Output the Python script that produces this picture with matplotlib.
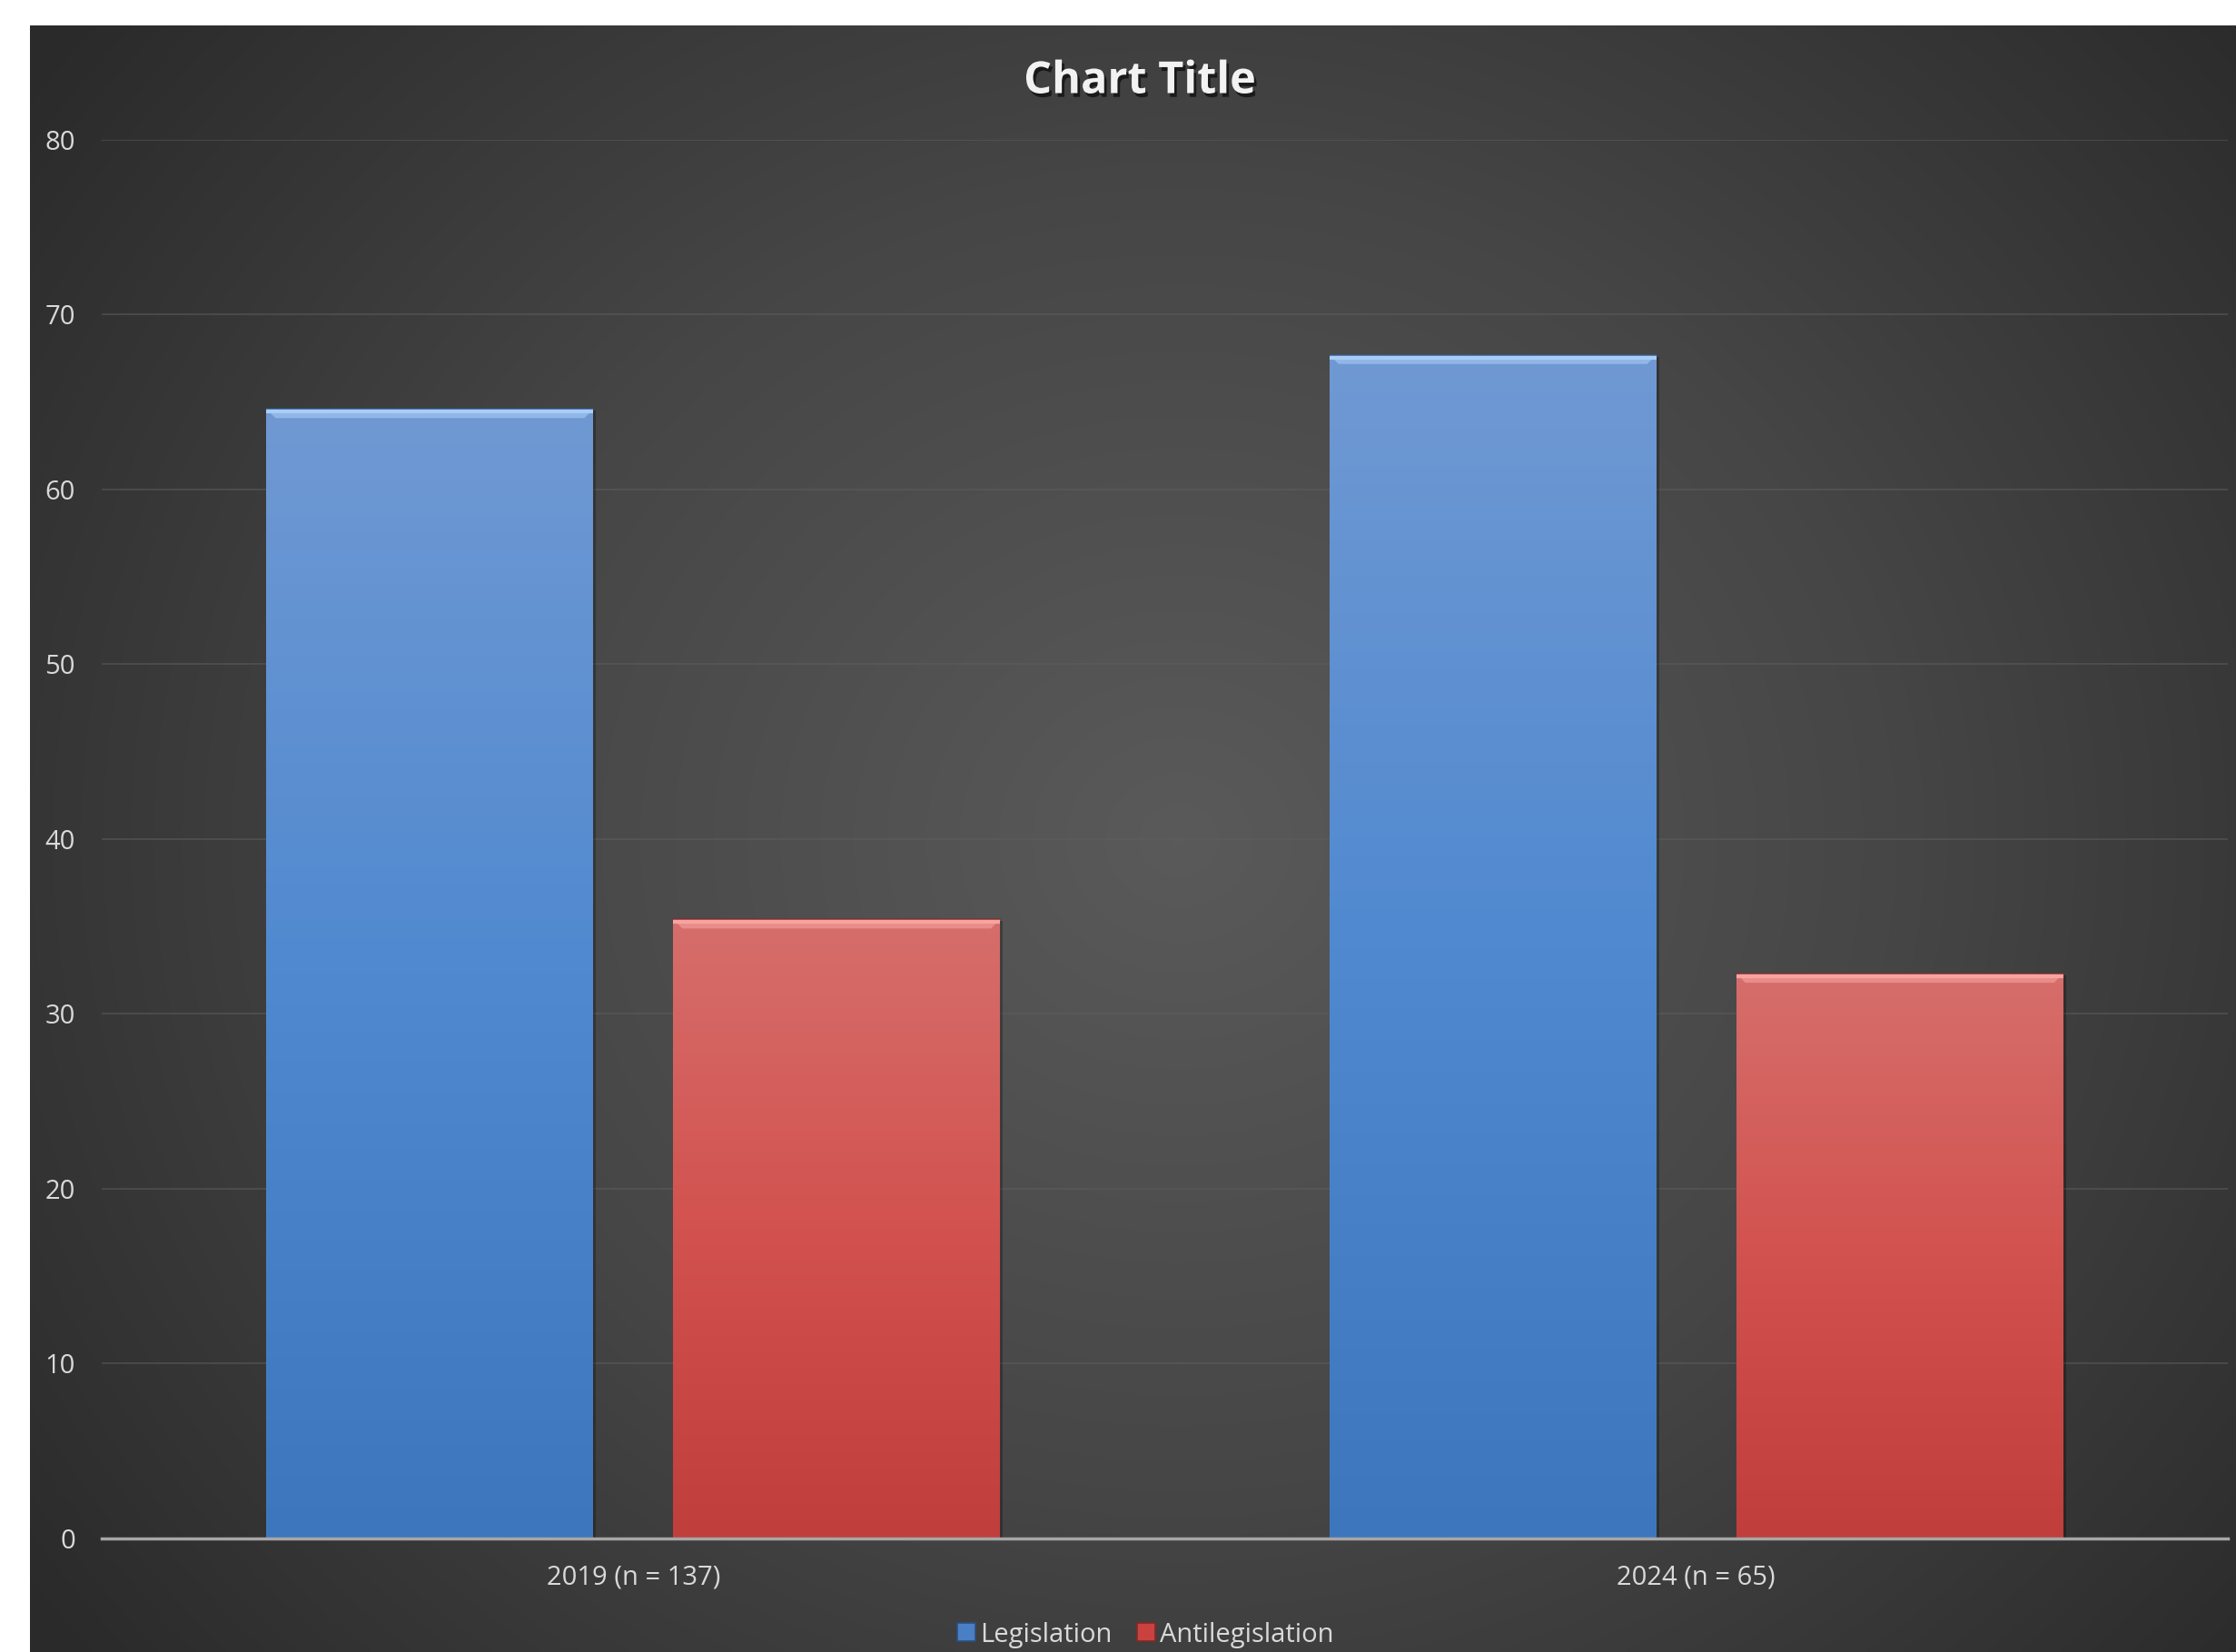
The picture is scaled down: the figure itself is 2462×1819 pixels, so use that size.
import numpy as np
import matplotlib
matplotlib.use("Agg")
import matplotlib.pyplot as plt
import matplotlib.patheffects as pe
from matplotlib.colors import LinearSegmentedColormap
from matplotlib.patches import Polygon, Rectangle
from matplotlib.lines import Line2D

categories = ["2019 (n = 137)", "2024 (n = 65)"]
legislation = [64.6, 67.7]
antilegislation = [35.4, 32.3]
series_names = ["Legislation", "Antilegislation"]
yticks = [0, 10, 20, 30, 40, 50, 60, 70, 80]

W, H, DPI = 2462, 1819, 100
fig = plt.figure(figsize=(W / DPI, H / DPI), dpi=DPI, facecolor="white")
plt.rcParams["font.family"] = ["Open Sans", "DejaVu Sans"]

# dark chart area with radial glow
bg = fig.add_axes([33 / W, 0, 1 - 33 / W, (H - 28) / H])
bg.set_axis_off()
ny, nx = 400, 540
yy, xx = np.mgrid[0:ny, 0:nx]
cx, cy = nx * 0.52, ny * 0.50
r = np.sqrt(((xx - cx) / (nx * 0.65)) ** 2 + ((yy - cy) / (ny * 0.8)) ** 2)
r = np.clip(r, 0, 1)
glow = LinearSegmentedColormap.from_list("glow", ["#5a5a5a", "#464646", "#2a2a2a"])
bg.imshow(r, cmap=glow, aspect="auto", extent=[0, 1, 0, 1], interpolation="bilinear")
bg.set_xlim(0, 1)
bg.set_ylim(0, 1)

ax = fig.add_axes([112 / W, 125.3 / H, (2453 - 112) / W, (1693.7 - 154) / H])
ax.patch.set_alpha(0)

x = np.arange(len(categories))
bw = 0.3074
off = bw / 2 + 0.0376

blue_grad = LinearSegmentedColormap.from_list("b", ["#3e76bd", "#5089d0", "#7099d3"])
red_grad = LinearSegmentedColormap.from_list("r", ["#c03e3c", "#d2524f", "#d66e6b"])
bevel_col = {"b": "#a9cdf6", "r": "#f7a4a1"}

px_x = 1 / (2453 - 112) * 2.0   # data units per pixel in x
px_y = 80 / (1693.7 - 154)      # data units per pixel in y

def draw_series(pos, vals, cmap, key, label):
    bars = ax.bar(pos, vals, bw, color="none", edgecolor="none", label=label, zorder=3)
    grad = np.linspace(0, 1, 256).reshape(-1, 1)
    for b in bars:
        x0, y0 = b.get_x(), b.get_y()
        w, h = b.get_width(), b.get_height()
        # soft shadow to the right
        ax.add_patch(Rectangle((x0 + 3 * px_x, y0), w, h - 2 * px_y, color="#000000",
                               alpha=0.25, lw=0, zorder=2))
        im = ax.imshow(grad, cmap=cmap, aspect="auto", origin="lower",
                       extent=[x0, x0 + w, y0, y0 + h], zorder=3)
        im.set_clip_path(b)
        d = 10
        top = Polygon([[x0, y0 + h], [x0 + w, y0 + h],
                       [x0 + w - d * px_x, y0 + h - d * px_y],
                       [x0 + d * px_x, y0 + h - d * px_y]],
                      closed=True, color=bevel_col[key], alpha=0.6, lw=0, zorder=4)
        ax.add_patch(top)
        ax.plot([x0, x0 + w], [y0 + h - 3 * px_y] * 2, color=bevel_col[key], lw=3,
                zorder=5, solid_capstyle="butt")
        ax.plot([x0, x0 + w], [y0 + h] * 2, color="#2c4f80" if key == "b" else "#7e2b29",
                lw=1.2, alpha=0.7, zorder=5)
    return bars

draw_series(x - off, legislation, blue_grad, "b", series_names[0])
draw_series(x + off, antilegislation, red_grad, "r", series_names[1])

ax.set_xlim(-0.5, 1.5)
ax.set_ylim(0, 80)
ax.set_yticks(yticks)
ax.set_xticks(x)
ax.set_xticklabels(categories)
ax.yaxis.grid(True, color="#5e5e5e", lw=1.2, alpha=0.6, zorder=0)
ax.set_axisbelow(True)
for s in ["top", "right", "left"]:
    ax.spines[s].set_visible(False)
ax.spines["bottom"].set_color("#a6a6a6")
ax.spines["bottom"].set_linewidth(2.5)
ax.spines["bottom"].set_zorder(6)
ax.tick_params(axis="both", length=0, colors="#d9d9d9", labelsize=21)
ax.tick_params(axis="y", pad=21)
ax.tick_params(axis="x", pad=21)

fig.text(1255 / W, 1 - 90 / H, "Chart Title", ha="center", va="center",
         fontsize=35, fontweight="bold", color="#f2f2f2",
         path_effects=[pe.withSimplePatchShadow(offset=(2, -3), shadow_rgbFace="black", alpha=0.6)])

# legend
handles = [Line2D([], [], marker="s", ls="none", markersize=15, markerfacecolor="#4a7fc4",
                  markeredgecolor="#2c4f80", markeredgewidth=1.2),
           Line2D([], [], marker="s", ls="none", markersize=15, markerfacecolor="#c9423f",
                  markeredgecolor="#7e2b29", markeredgewidth=1.2)]
fig.legend(handles, series_names, loc="center", bbox_to_anchor=(1262 / W, 1 - 1800 / H),
           ncol=2, frameon=False, fontsize=21, handlelength=0.6, handletextpad=0.2,
           columnspacing=1.0, labelcolor="#d9d9d9")

fig.savefig("out.png", dpi=DPI, facecolor="white")
